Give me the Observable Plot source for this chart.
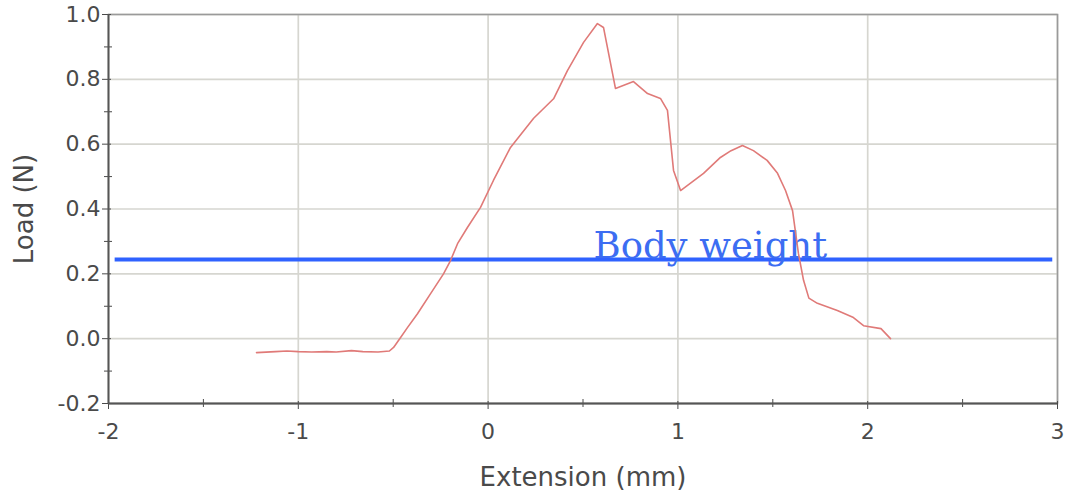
<!DOCTYPE html>
<html>
<head>
<meta charset="utf-8">
<script src="https://cdn.jsdelivr.net/npm/d3@7"></script>
<script src="https://cdn.jsdelivr.net/npm/@observablehq/plot@0.6"></script>
<style>
  html, body { margin: 0; padding: 0; background: #fff; }
  #chart svg { display: block; }
  #chart svg g[aria-label="x-axis tick label"],
  #chart svg g[aria-label="y-axis tick label"] { font-size: 22px !important; }
  #chart svg g[aria-label="x-axis label"],
  #chart svg g[aria-label="y-axis label"] { font-size: 26px !important; }
</style>
</head>
<body>
<div id="chart"></div>
<script>
// Load–extension trace
const extension = [-1.22, -1.12, -1.06, -1.0, -0.93, -0.85, -0.80, -0.72, -0.66, -0.58, -0.52, -0.498,
  -0.462, -0.425, -0.372, -0.303, -0.235, -0.198, -0.161, -0.109, -0.040, 0.028, 0.118, 0.24, 0.345, 0.418, 0.503,
  0.576, 0.608, 0.671, 0.766, 0.84, 0.908, 0.945, 0.977, 1.014, 1.135, 1.224, 1.28, 1.34, 1.398, 1.47,
  1.525, 1.567, 1.604, 1.635, 1.662, 1.69, 1.735, 1.84, 1.925, 1.978, 2.07, 2.12];
const load = [-0.043, -0.040, -0.038, -0.040, -0.041, -0.040, -0.041, -0.037, -0.040, -0.041, -0.038, -0.027,
  0.003, 0.034, 0.077, 0.139, 0.200, 0.241, 0.293, 0.343, 0.405, 0.488, 0.59, 0.68, 0.74, 0.827, 0.914,
  0.972, 0.96, 0.772, 0.793, 0.756, 0.741, 0.704, 0.519, 0.457, 0.51, 0.559, 0.58, 0.596, 0.58, 0.55,
  0.51, 0.457, 0.395, 0.263, 0.18, 0.125, 0.109, 0.087, 0.065, 0.04, 0.031, 0.0];

// Reference level
const bodyWeight = 0.244;
const bodyWeightLabel = "Body weight";
const bodyWeightLabelX = 0.555;

// Axis ticks
const xTicks = [-2, -1, 0, 1, 2, 3];
const xMinor = [-1.5, -0.5, 0.5, 1.5, 2.5];
const yTicks = [-0.2, 0, 0.2, 0.4, 0.6, 0.8, 1.0];
const yMinor = [-0.1, 0.1, 0.3, 0.5, 0.7, 0.9];

const trace = extension.map((x, i) => ({x, y: load[i]}));

const axisFont = "'DejaVu Sans', Verdana, sans-serif";
const axisColor = "#4a4a4a";

const chart = Plot.plot({
  width: 1065,
  height: 495,
  marginLeft: 108,
  marginRight: 8,
  marginTop: 14,
  marginBottom: 92,
  style: {fontFamily: axisFont, color: axisColor, background: "#fff"},
  x: {domain: [-2, 3]},
  y: {domain: [-0.2, 1.0]},
  marks: [
    // grid
    Plot.ruleX(xTicks, {stroke: "#d6d6d0", strokeWidth: 1.7}),
    Plot.ruleY(yTicks, {stroke: "#d6d6d0", strokeWidth: 1.7}),
    Plot.frame({stroke: "#9a9a9a", strokeWidth: 1.6}),
    // axes
    Plot.axisX({ticks: xTicks, tickFormat: d => String(d), tickSize: 8, dy: -2, tickPadding: 14,
      label: "Extension (mm)", labelAnchor: "center", labelArrow: "none", labelOffset: 82, stroke: axisColor}),
    Plot.axisX({ticks: xMinor, text: null, tickSize: 8, dy: -4, stroke: axisColor, label: null}),
    Plot.axisY({ticks: yTicks, tickFormat: d => d.toFixed(1), tickSize: 9, dx: 3, tickPadding: 2,
      label: "Load (N)", labelAnchor: "center", labelArrow: "none", labelOffset: 94, stroke: axisColor}),
    Plot.axisY({ticks: yMinor, text: null, tickSize: 8, dx: 4, stroke: axisColor, label: null}),
    Plot.ruleX([-2], {stroke: "#555", strokeWidth: 1.8}),
    Plot.ruleY([-0.2], {stroke: "#555", strokeWidth: 1.8}),
    // body weight line and label
    Plot.ruleY([bodyWeight], {x1: -1.965, x2: 2.975, stroke: "#2f62ff", strokeWidth: 4}),
    Plot.text([bodyWeightLabel], {x: bodyWeightLabelX, y: bodyWeight, text: d => d, textAnchor: "start",
      lineAnchor: "bottom", dy: -2, fill: "#3c6df2", fontSize: 37, fontFamily: "'DejaVu Serif', 'Liberation Serif', serif"}),
    // load curve
    Plot.line(trace, {x: "x", y: "y", stroke: "#e07a78", strokeWidth: 1.6, curve: "linear"})
  ]
});

document.getElementById("chart").append(chart);
</script>
</body>
</html>
